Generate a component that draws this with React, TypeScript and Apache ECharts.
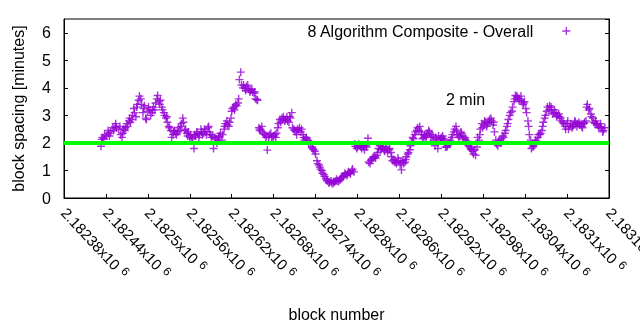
import React, { useEffect, useRef } from "react";
import * as echarts from "echarts";

// [block number, block spacing in minutes] — main trace
const samplesA: [number, number][] = [
  [2182433, 1.88], [2182434, 2.13], [2182435, 2.2], [2182438, 2.3], [2182441, 2.25], [2182444, 2.35],
  [2182447, 2.4], [2182450, 2.55], [2182453, 2.6], [2182455, 2.55], [2182458, 2.5], [2182461, 2.3],
  [2182464, 2.35], [2182467, 2.45], [2182470, 2.7], [2182473, 2.8], [2182475, 2.75], [2182478, 3.0],
  [2182481, 3.1], [2182484, 3.3], [2182487, 3.55], [2182488, 3.7], [2182491, 3.4], [2182494, 3.25],
  [2182497, 2.9], [2182500, 3.15], [2182503, 3.2], [2182506, 3.1], [2182508, 3.3], [2182511, 3.45],
  [2182514, 3.72], [2182517, 3.4], [2182520, 3.3], [2182523, 3.1], [2182526, 2.9], [2182528, 2.75],
  [2182531, 2.55], [2182534, 2.2], [2182537, 2.4], [2182540, 2.35], [2182543, 2.4], [2182546, 2.45],
  [2182548, 2.7], [2182551, 2.75], [2182554, 2.5], [2182557, 2.25], [2182560, 2.2], [2182563, 2.2],
  [2182566, 1.8], [2182568, 2.25], [2182571, 2.35], [2182574, 2.3], [2182577, 2.4], [2182580, 2.35],
  [2182583, 2.4], [2182586, 2.55], [2182588, 2.4], [2182591, 2.2], [2182594, 1.8], [2182597, 2.15],
  [2182600, 2.1], [2182603, 2.25], [2182606, 2.1], [2182609, 2.5], [2182611, 2.7], [2182614, 2.65],
  [2182617, 2.75], [2182620, 3.15], [2182623, 3.3], [2182626, 3.4], [2182629, 3.45], [2182631, 4.3],
  [2182633, 4.57], [2182636, 4.0], [2182639, 3.98], [2182641, 4.05], [2182644, 3.95], [2182647, 3.9],
  [2182650, 3.85], [2182653, 3.85], [2182656, 3.58], [2182659, 2.55], [2182661, 2.5], [2182664, 2.4],
  [2182667, 2.3], [2182670, 2.25], [2182671, 1.74], [2182674, 2.3], [2182677, 2.2], [2182680, 2.25],
  [2182683, 2.2], [2182686, 2.55], [2182689, 2.85], [2182692, 2.9], [2182694, 2.95], [2182697, 2.85],
  [2182700, 2.8], [2182703, 2.95], [2182706, 3.1], [2182709, 2.5], [2182712, 2.4], [2182714, 2.5],
  [2182717, 2.55], [2182720, 2.5], [2182723, 2.2], [2182726, 2.15], [2182729, 2.1], [2182732, 2.05],
  [2182735, 1.85], [2182737, 1.75], [2182740, 1.6], [2182743, 1.25], [2182746, 1.12], [2182749, 1.0],
  [2182752, 0.85], [2182755, 0.7], [2182757, 0.62], [2182760, 0.56], [2182763, 0.55], [2182766, 0.6],
  [2182769, 0.62], [2182772, 0.62], [2182775, 0.65], [2182777, 0.75], [2182780, 0.8], [2182783, 0.85],
  [2182786, 0.88], [2182789, 0.92], [2182792, 1.0], [2182795, 0.95], [2182797, 1.88], [2182800, 1.85],
  [2182803, 1.9], [2182806, 1.8], [2182809, 1.85], [2182812, 1.9], [2182815, 2.17], [2182816, 1.3],
  [2182819, 1.35], [2182822, 1.45], [2182825, 1.5], [2182828, 1.55], [2182830, 1.8], [2182833, 1.75],
  [2182836, 1.85], [2182839, 1.7], [2182842, 1.8], [2182845, 1.75], [2182848, 1.65], [2182850, 1.35],
  [2182853, 1.3], [2182856, 1.25], [2182859, 1.35], [2182862, 1.3], [2182863, 1.02], [2182866, 1.25],
  [2182869, 1.4], [2182872, 1.6], [2182875, 1.75], [2182878, 2.05], [2182880, 2.15], [2182883, 2.4],
  [2182886, 2.55], [2182889, 2.6], [2182892, 2.3], [2182895, 2.2], [2182898, 2.2], [2182900, 2.35],
  [2182903, 2.4], [2182906, 2.3], [2182909, 2.1], [2182912, 2.2], [2182915, 1.8], [2182918, 2.1],
  [2182920, 2.2], [2182923, 2.15], [2182926, 1.85], [2182929, 1.9], [2182932, 1.95], [2182935, 2.2],
  [2182938, 2.4], [2182941, 2.6], [2182943, 2.3], [2182946, 2.25], [2182949, 2.35], [2182952, 2.15],
  [2182955, 2.1], [2182958, 2.05], [2182961, 1.85], [2182963, 1.75], [2182966, 1.6], [2182969, 1.55],
  [2182972, 2.2], [2182975, 2.3], [2182978, 2.7], [2182981, 2.65], [2182983, 2.75], [2182986, 2.7],
  [2182989, 2.85], [2182992, 2.8], [2182995, 2.75], [2182998, 2.1], [2183001, 1.9], [2183003, 2.1],
  [2183006, 2.15], [2183009, 2.2], [2183012, 2.45], [2183015, 2.7], [2183018, 3.0], [2183021, 3.15],
  [2183024, 3.5], [2183026, 3.72], [2183029, 3.65], [2183032, 3.6], [2183035, 3.5], [2183038, 3.45],
  [2183041, 3.25], [2183044, 2.8], [2183046, 2.3], [2183049, 1.8], [2183052, 1.9], [2183055, 2.1],
  [2183058, 2.2], [2183061, 2.3], [2183064, 2.45], [2183066, 2.75], [2183069, 3.0], [2183072, 3.3],
  [2183075, 3.35], [2183078, 3.2], [2183081, 3.1], [2183084, 3.1], [2183086, 3.0], [2183089, 2.95],
  [2183092, 2.8], [2183095, 2.7], [2183098, 2.5], [2183101, 2.8], [2183104, 2.6], [2183107, 2.55],
  [2183109, 2.65], [2183112, 2.75], [2183115, 2.7], [2183118, 2.65], [2183121, 2.6], [2183124, 2.7],
  [2183127, 2.8], [2183129, 3.4], [2183132, 3.25], [2183135, 2.95], [2183138, 2.75], [2183141, 2.8],
  [2183144, 2.65], [2183147, 2.6], [2183149, 2.55], [2183152, 2.45],
];

// [block number, block spacing in minutes] — the band's spread around the trace
const samplesB: [number, number][] = [
  [2182437, 2.15], [2182443, 2.45], [2182445, 2.25], [2182451, 2.45], [2182454, 2.7], [2182460, 2.6],
  [2182463, 2.2], [2182465, 2.5], [2182468, 2.55], [2182471, 2.6], [2182474, 2.9], [2182477, 2.85],
  [2182480, 3.25], [2182483, 2.95], [2182485, 3.4], [2182490, 3.6], [2182493, 3.1], [2182495, 3.35],
  [2182498, 2.85], [2182501, 3.3], [2182504, 3.0], [2182507, 3.2], [2182510, 3.2], [2182513, 3.6],
  [2182516, 3.5], [2182518, 3.55], [2182521, 3.2], [2182524, 3.0], [2182527, 2.95], [2182530, 2.6],
  [2182533, 2.45], [2182536, 2.3], [2182538, 2.45], [2182541, 2.3], [2182544, 2.55], [2182547, 2.6],
  [2182550, 2.9], [2182553, 2.45], [2182556, 2.35], [2182558, 2.4], [2182561, 2.3], [2182564, 2.15],
  [2182567, 2.3], [2182570, 2.4], [2182573, 2.2], [2182576, 2.5], [2182578, 2.3], [2182581, 2.5],
  [2182584, 2.3], [2182587, 2.6], [2182590, 2.3], [2182593, 2.25], [2182596, 2.2], [2182599, 2.0],
  [2182601, 2.2], [2182604, 2.35], [2182607, 2.3], [2182610, 2.6], [2182613, 2.8], [2182616, 2.6],
  [2182619, 2.9], [2182621, 3.25], [2182624, 3.2], [2182627, 3.35], [2182630, 3.6], [2182634, 4.1],
  [2182637, 4.1], [2182640, 3.9], [2182643, 4.1], [2182646, 3.85], [2182649, 3.95], [2182652, 3.8],
  [2182654, 3.6], [2182657, 3.55], [2182660, 2.45], [2182663, 2.6], [2182666, 2.35], [2182669, 2.2],
  [2182673, 2.2], [2182676, 2.35], [2182679, 2.2], [2182682, 2.3], [2182684, 2.35], [2182687, 2.7],
  [2182690, 2.75], [2182693, 2.85], [2182696, 2.8], [2182699, 2.95], [2182702, 2.75], [2182704, 2.9],
  [2182707, 2.55], [2182710, 2.45], [2182713, 2.3], [2182716, 2.45], [2182719, 2.4], [2182722, 2.3],
  [2182724, 2.1], [2182727, 2.2], [2182730, 1.95], [2182733, 1.95], [2182736, 1.8], [2182739, 1.7],
  [2182742, 1.35], [2182745, 1.2], [2182747, 1.05], [2182750, 0.9], [2182753, 0.78], [2182756, 0.65],
  [2182759, 0.55], [2182762, 0.62], [2182765, 0.52], [2182767, 0.58], [2182770, 0.68], [2182773, 0.6],
  [2182776, 0.7], [2182779, 0.78], [2182782, 0.9], [2182785, 0.82], [2182787, 0.95], [2182790, 0.88],
  [2182793, 1.05], [2182796, 1.95], [2182799, 1.8], [2182802, 1.95], [2182805, 1.85], [2182808, 1.9],
  [2182810, 1.75], [2182813, 1.85], [2182818, 1.25], [2182820, 1.4], [2182823, 1.5], [2182826, 1.45],
  [2182829, 1.65], [2182832, 1.9], [2182835, 1.8], [2182838, 1.75], [2182840, 1.85], [2182843, 1.65],
  [2182846, 1.8], [2182849, 1.5], [2182852, 1.4], [2182855, 1.3], [2182858, 1.45], [2182861, 1.2],
  [2182865, 1.35], [2182868, 1.3], [2182870, 1.5], [2182873, 1.65], [2182876, 1.9], [2182879, 2.2],
  [2182882, 2.3], [2182885, 2.45], [2182888, 2.45], [2182891, 2.4], [2182893, 2.15], [2182896, 2.3],
  [2182899, 2.25], [2182902, 2.45], [2182905, 2.2], [2182908, 2.25], [2182911, 1.9], [2182913, 2.15],
  [2182916, 2.25], [2182919, 2.15], [2182922, 2.25], [2182925, 2.1], [2182928, 1.85], [2182931, 2.0],
  [2182933, 2.1], [2182936, 2.3], [2182939, 2.5], [2182942, 2.45], [2182945, 2.2], [2182948, 2.4],
  [2182951, 2.25], [2182954, 2.2], [2182956, 2.0], [2182959, 1.9], [2182962, 1.8], [2182965, 1.7],
  [2182968, 1.75], [2182971, 1.85], [2182974, 2.1], [2182976, 2.5], [2182979, 2.55], [2182982, 2.8],
  [2182985, 2.6], [2182988, 2.75], [2182991, 2.9], [2182994, 2.65], [2182996, 2.4], [2182999, 1.95],
  [2183002, 2.05], [2183005, 2.0], [2183008, 2.25], [2183011, 2.35], [2183014, 2.6], [2183016, 2.85],
  [2183019, 3.1], [2183022, 3.3], [2183025, 3.6], [2183028, 3.7], [2183031, 3.55], [2183034, 3.7],
  [2183037, 3.4], [2183039, 3.5], [2183042, 3.1], [2183045, 2.6], [2183048, 2.1], [2183051, 1.85],
  [2183054, 2.0], [2183056, 2.05], [2183059, 2.3], [2183062, 2.35], [2183065, 2.6], [2183068, 2.9],
  [2183071, 3.15], [2183074, 3.2], [2183077, 3.3], [2183079, 3.05], [2183082, 3.2], [2183085, 2.95],
  [2183088, 3.05], [2183091, 2.9], [2183094, 2.75], [2183097, 2.6], [2183100, 2.7], [2183102, 2.5],
  [2183105, 2.7], [2183108, 2.6], [2183111, 2.8], [2183114, 2.6], [2183117, 2.75], [2183120, 2.7],
  [2183122, 2.55], [2183125, 2.75], [2183128, 3.3], [2183131, 3.2], [2183134, 3.05], [2183137, 2.9],
  [2183140, 2.7], [2183142, 2.7], [2183145, 2.55], [2183148, 2.7], [2183151, 2.4], [2183154, 2.55],
];

const xMin = 2182380;
const xMax = 2183160;
const xStep = 60;
const yMin = 0;
const yMax = 6.5;
const yStep = 1;
const targetMinutes = 2;
const seriesName = "8 Algorithm Composite - Overall";
const targetLabel = "2 min";
const xAxisName = "block number";
const yAxisName = "block spacing [minutes]";

const FONT = "'Liberation Sans', Arial, sans-serif";
const PURPLE = "#9400D3";
const PLUS = "path://M0,4L8,4M4,0L4,8";

function formatBlock(v: number): string {
  const m = parseFloat((v / 1e6).toFixed(6)).toString();
  return `{a|${m}x10}{s|6}`;
}

export default function App() {
  const ref = useRef<HTMLDivElement>(null);
  useEffect(() => {
    const chart = echarts.init(ref.current!, null, { renderer: "svg" });
    chart.setOption({
      animation: false,
      grid: {
        left: 64,
        right: 31,
        top: 19,
        bottom: 132,
        show: true,
        borderColor: "#000",
        borderWidth: 1,
        containLabel: false,
        outerBoundsMode: "none",
      },
      legend: {
        data: [seriesName],
        right: 64,
        top: 18,
        align: "right",
        icon: PLUS,
        itemWidth: 8,
        itemHeight: 8,
        selectedMode: false,
        itemStyle: { color: PURPLE, borderColor: PURPLE, borderWidth: 1.3 },
        textStyle: { fontSize: 16, color: "#000", fontFamily: FONT, padding: [0, 24, 0, 0] },
      },
      graphic: [
        {
          type: "text",
          left: 446,
          top: 91,
          style: { text: targetLabel, font: `16px ${FONT}`, fill: "#000" },
        },
      ],
      xAxis: {
        type: "value",
        min: xMin,
        max: xMax,
        interval: xStep,
        name: xAxisName,
        nameLocation: "middle",
        nameGap: 108,
        nameTextStyle: { fontSize: 16, color: "#000", fontFamily: FONT },
        axisLine: { lineStyle: { color: "#000", width: 1 } },
        axisTick: { inside: true, length: 4, lineStyle: { color: "#000" } },
        splitLine: { show: false },
        axisLabel: {
          rotate: -47,
          margin: 12,
          color: "#000",
          fontFamily: FONT,
          fontSize: 15,
          formatter: formatBlock,
          rich: {
            a: { fontSize: 15, fontFamily: FONT, color: "#000", lineHeight: 18 },
            s: { fontSize: 12, fontFamily: FONT, color: "#000", verticalAlign: "top", padding: [0, 0, 0, 5] },
          },
        },
      },
      yAxis: [
        {
          type: "value",
          min: yMin,
          max: yMax,
          interval: yStep,
          name: yAxisName,
          nameLocation: "middle",
          nameGap: 38,
          nameTextStyle: { fontSize: 16, color: "#000", fontFamily: FONT },
          axisLine: { show: true, lineStyle: { color: "#000", width: 1 } },
          axisTick: { inside: true, length: 4, lineStyle: { color: "#000" } },
          splitLine: { show: false },
          axisLabel: { margin: 13, color: "#000", fontFamily: FONT, fontSize: 16, showMaxLabel: false },
        },
        {
          type: "value",
          position: "right",
          min: yMin,
          max: yMax,
          interval: yStep,
          axisLine: { show: true, lineStyle: { color: "#000", width: 1 } },
          axisTick: { inside: true, length: 4, lineStyle: { color: "#000" } },
          splitLine: { show: false },
          axisLabel: { show: false },
        },
      ],
      series: [
        {
          name: seriesName,
          type: "scatter",
          data: [...samplesA, ...samplesB],
          symbol: PLUS,
          symbolSize: 8,
          itemStyle: { color: PURPLE, borderColor: PURPLE, borderWidth: 1.4 },
          z: 2,
        },
        {
          name: targetLabel,
          type: "line",
          data: [
            [xMin, targetMinutes],
            [xMax, targetMinutes],
          ],
          symbol: "none",
          lineStyle: { color: "#00FF00", width: 4 },
          z: 3,
        },
      ],
    });
    return () => chart.dispose();
  }, []);
  return <div ref={ref} style={{ position: "fixed", left: 0, top: 0, width: 640, height: 330 }} />;
}
